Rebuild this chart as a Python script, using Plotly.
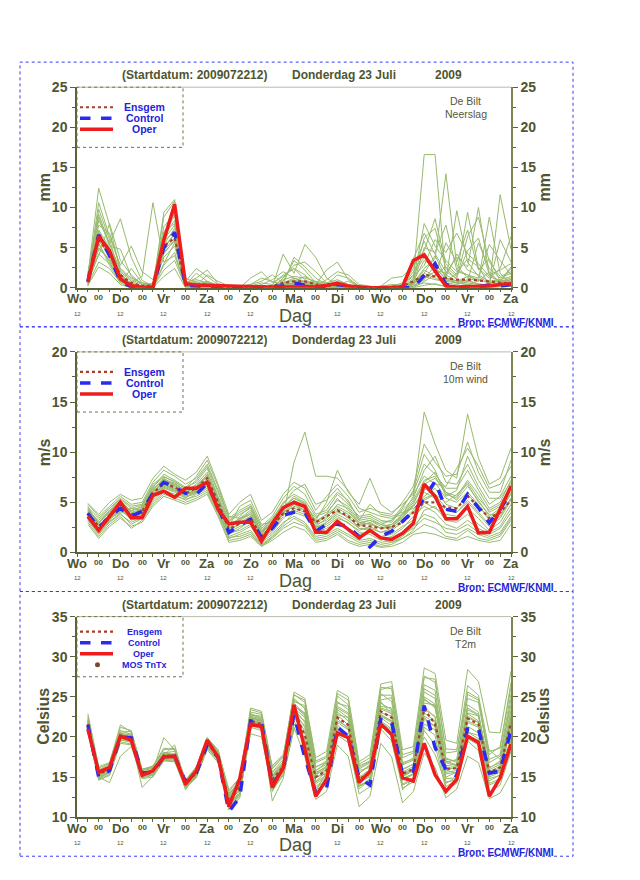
import plotly.graph_objects as go

# page geometry (the browser offsets / scales the figure slightly)
OX, OY, SY = 8, 16, 0.979
W, H = 624, 870

# ---------------- data ----------------
hours = list(range(6, 241, 6))          # forecast steps (+6h .. +240h) from 22 Jul 12Z
day_hours = [0, 24, 48, 72, 96, 120, 144, 168, 192, 216, 240]
day_names = ["Wo", "Do", "Vr", "Za", "Zo", "Ma", "Di", "Wo", "Do", "Vr", "Za"]
night_hours = [12, 36, 60, 84, 108, 132, 156, 180, 204, 228]
night_label = "00"
hour_label = "12"

# ---- Neerslag (mm) ----
precip_oper = [0.7, 6.4, 4.6, 1.1, 0.25, 0.05, 0.0, 5.9, 10.4, 0.5, 0.35, 0.3, 0.3, 0.2, 0.1, 0.05, 0.1, 0.1, 0.05, 0.1,
               0.15, 0.1, 0.3, 0.55, 0.2, 0.05, 0.0, 0.0, 0.05, 0.1, 3.4, 4.1, 2.1, 0.2, 0.1, 0.1, 0.2, 0.2, 0.4, 0.5]
precip_ctrl = [0.8, 6.6, 4.0, 0.8, 0.1, 0.0, 0.0, 5.0, 6.9, 0.3, 0.2, 0.1, 0.1, 0.0, 0.0, 0.0, 0.0, 0.1, 0.2, 0.6,
               0.3, 0.1, 0.2, 0.4, 0.2, 0.0, 0.0, 0.0, 0.0, 0.0, 0.0, 1.5, 3.0, 0.4, 0.1, 0.0, 0.1, 0.3, 0.2, 0.4]
precip_ens = [0.9, 6.0, 4.2, 1.6, 0.6, 0.2, 0.3, 5.2, 6.2, 0.3, 0.4, 0.4, 0.1, 0.0, 0.0, 0.1, 0.2, 0.2, 0.6, 0.8,
              0.8, 0.4, 0.2, 0.4, 0.2, 0.0, 0.0, 0.0, 0.1, 0.2, 0.8, 1.6, 1.4, 1.2, 1.0, 1.0, 0.9, 0.8, 0.6, 0.5]
precip_members = [
    [0.8, 5.8, 4.2, 1.0, 0.2, 0.0, 0.0, 4.6, 6.2, 0.3, 0.2, 0.4, 0.1, 0.0, 0.0, 0.0, 0.1, 0.0, 0.2, 0.4, 0.6, 0.2, 0.1, 0.3, 0.1, 0.0, 0.0, 0.0, 0.1, 0.2, 0.5, 1.8, 1.2, 0.6, 0.4, 0.8, 0.5, 0.3, 0.4, 0.6],
    [1.5, 12.4, 7.8, 2.0, 0.8, 0.2, 0.4, 7.6, 9.2, 0.6, 1.2, 2.2, 0.5, 0.2, 0.0, 0.2, 0.6, 0.4, 1.6, 2.4, 1.0, 0.4, 0.2, 0.6, 0.2, 0.0, 0.0, 0.2, 0.4, 0.3, 2.4, 5.8, 3.0, 1.4, 4.2, 2.2, 1.6, 0.8, 1.0, 1.4],
    [0.4, 3.2, 2.4, 0.6, 0.0, 0.0, 0.0, 2.2, 3.4, 0.1, 0.0, 0.1, 0.0, 0.0, 0.0, 0.0, 0.0, 0.0, 0.0, 0.1, 0.0, 0.0, 0.0, 0.0, 0.0, 0.0, 0.0, 0.0, 0.0, 0.0, 0.0, 0.3, 0.5, 0.1, 0.0, 0.2, 0.1, 0.0, 0.1, 0.2],
    [1.0, 8.4, 5.6, 8.6, 3.8, 0.9, 0.2, 5.8, 7.0, 0.4, 0.5, 0.6, 0.2, 0.1, 0.0, 0.0, 0.2, 0.1, 0.6, 1.0, 0.4, 0.1, 0.0, 0.2, 0.1, 0.0, 0.0, 0.0, 0.2, 0.6, 3.6, 6.8, 4.2, 2.0, 1.2, 6.4, 8.8, 3.2, 1.4, 2.0],
    [0.6, 4.8, 3.6, 1.4, 0.3, 0.1, 0.0, 3.8, 5.2, 0.2, 0.1, 0.3, 0.0, 0.0, 0.0, 0.0, 0.0, 0.1, 4.2, 1.8, 5.4, 3.8, 1.2, 0.4, 0.0, 0.0, 0.0, 0.0, 0.0, 0.1, 1.2, 16.6, 16.6, 1.0, 0.6, 0.4, 0.2, 0.4, 0.6, 1.0],
    [1.2, 10.6, 6.4, 2.8, 5.2, 2.0, 1.0, 6.4, 8.4, 0.8, 2.4, 1.4, 0.4, 0.3, 0.2, 0.4, 1.2, 0.8, 0.4, 0.6, 0.2, 0.0, 0.0, 0.0, 0.0, 0.0, 0.0, 0.0, 0.0, 0.0, 0.6, 2.4, 3.6, 14.2, 2.8, 1.2, 0.8, 2.0, 0.6, 0.4],
    [0.9, 6.2, 4.6, 1.2, 0.6, 1.4, 10.6, 3.2, 4.0, 0.2, 0.1, 0.0, 0.0, 0.0, 0.0, 0.0, 0.4, 1.0, 2.0, 1.2, 0.8, 0.3, 0.1, 0.1, 0.0, 0.0, 0.0, 0.0, 0.0, 0.2, 0.8, 3.4, 2.6, 1.0, 9.6, 3.2, 1.4, 0.6, 0.8, 0.8],
    [0.7, 7.2, 5.0, 1.8, 0.4, 0.2, 0.3, 8.8, 10.8, 0.5, 0.8, 0.2, 0.1, 0.0, 0.0, 0.0, 0.0, 0.0, 0.8, 3.4, 2.2, 0.6, 0.4, 1.6, 1.2, 0.2, 0.0, 0.2, 0.0, 0.0, 1.0, 8.0, 5.2, 3.4, 2.0, 1.6, 0.8, 8.8, 1.8, 0.6],
    [0.5, 4.2, 3.0, 1.0, 0.2, 0.0, 0.0, 5.2, 6.6, 0.2, 0.3, 1.6, 0.8, 0.2, 0.1, 0.2, 0.0, 0.0, 0.2, 0.6, 0.8, 0.4, 2.2, 3.2, 1.0, 0.2, 0.0, 0.0, 0.0, 0.0, 0.4, 1.4, 1.0, 0.8, 0.6, 1.0, 0.4, 0.2, 11.6, 4.8],
    [1.8, 9.2, 5.4, 2.2, 1.0, 0.4, 0.1, 6.0, 7.8, 0.3, 0.4, 0.8, 0.2, 0.0, 0.0, 0.0, 0.2, 0.2, 1.0, 1.4, 1.2, 0.8, 0.6, 1.0, 0.4, 0.0, 0.0, 0.2, 1.2, 1.4, 2.8, 4.6, 8.6, 3.0, 1.6, 9.4, 2.4, 1.2, 2.4, 6.4],
    [0.3, 2.6, 1.8, 0.4, 0.0, 0.0, 0.0, 1.4, 2.4, 0.0, 0.0, 0.0, 0.0, 0.0, 0.0, 0.0, 0.0, 0.0, 0.0, 0.0, 0.0, 0.0, 0.0, 0.0, 0.0, 0.0, 0.0, 0.0, 0.0, 0.0, 0.2, 0.6, 0.4, 0.2, 0.1, 0.1, 0.0, 0.1, 0.2, 0.3],
    [1.1, 6.8, 4.8, 1.6, 0.5, 0.2, 0.0, 4.4, 5.8, 0.4, 0.6, 0.4, 0.2, 0.0, 0.0, 1.2, 2.0, 0.6, 1.4, 2.4, 1.6, 0.4, 0.2, 0.6, 0.2, 0.0, 0.0, 0.0, 0.0, 0.4, 1.6, 3.8, 2.2, 1.8, 3.8, 2.6, 10.0, 1.6, 2.2, 3.0],
    [0.6, 5.4, 3.2, 0.8, 0.1, 0.0, 0.0, 2.8, 4.4, 0.1, 0.2, 0.2, 0.0, 0.0, 0.0, 0.0, 0.0, 0.2, 0.4, 0.6, 0.2, 0.0, 0.0, 0.2, 0.0, 0.0, 0.0, 0.0, 0.0, 0.2, 0.6, 1.8, 4.0, 1.2, 0.8, 1.4, 1.0, 0.6, 0.4, 0.6],
    [1.4, 7.8, 6.8, 2.4, 1.2, 0.6, 0.2, 7.0, 8.0, 0.6, 0.4, 0.2, 0.1, 0.0, 0.0, 0.0, 0.1, 0.0, 0.2, 0.4, 0.4, 0.2, 0.0, 0.0, 0.0, 0.0, 0.0, 0.0, 0.0, 0.0, 0.4, 2.2, 1.4, 5.6, 3.2, 7.2, 2.2, 3.6, 0.8, 1.2],
    [0.9, 5.0, 3.4, 1.2, 0.4, 0.1, 0.0, 9.4, 11.0, 0.7, 1.0, 0.6, 0.2, 0.1, 0.0, 0.0, 0.0, 0.0, 0.6, 0.8, 1.4, 0.6, 0.2, 0.4, 0.2, 0.0, 0.0, 0.0, 0.0, 0.0, 0.2, 1.0, 2.8, 1.6, 0.8, 0.6, 0.4, 0.2, 0.4, 0.8],
    [0.5, 9.8, 6.0, 1.4, 0.6, 0.1, 0.0, 6.8, 9.0, 0.4, 1.8, 0.8, 0.3, 0.1, 0.0, 0.0, 0.0, 0.0, 0.4, 3.8, 2.6, 1.2, 0.4, 0.8, 0.4, 0.0, 0.0, 0.0, 0.0, 0.2, 0.8, 6.2, 7.4, 2.4, 1.0, 0.8, 5.6, 2.4, 1.2, 1.8],
    [1.3, 4.0, 8.0, 3.4, 1.6, 0.4, 0.0, 3.0, 5.6, 1.2, 0.6, 0.2, 0.0, 0.0, 0.0, 0.4, 0.8, 1.6, 0.6, 0.2, 0.4, 0.2, 1.0, 2.0, 1.6, 0.4, 0.2, 0.0, 0.0, 0.4, 1.4, 2.8, 6.0, 4.4, 6.8, 4.2, 3.0, 1.4, 0.8, 1.0],
    [0.2, 5.6, 2.8, 0.6, 2.4, 0.6, 0.4, 4.2, 6.0, 0.2, 0.2, 0.1, 0.0, 0.0, 0.0, 0.0, 0.0, 0.0, 0.0, 0.2, 0.6, 0.8, 0.2, 0.0, 0.0, 0.0, 0.0, 0.0, 0.0, 0.0, 0.0, 0.8, 1.6, 2.6, 1.4, 4.6, 6.2, 1.6, 0.8, 2.6],
    [1.0, 7.0, 4.4, 1.4, 0.4, 0.2, 0.6, 6.6, 9.6, 0.4, 0.3, 0.2, 0.1, 0.0, 0.0, 0.0, 0.0, 0.0, 1.2, 2.8, 3.2, 2.0, 0.6, 0.2, 0.0, 0.0, 0.0, 0.0, 0.0, 0.0, 0.4, 5.0, 4.4, 7.8, 2.2, 1.6, 1.2, 5.4, 3.4, 1.6],
    [0.7, 6.0, 3.8, 0.8, 0.2, 0.0, 0.0, 5.4, 7.4, 0.3, 0.5, 0.4, 0.2, 0.0, 0.0, 0.0, 0.0, 0.0, 0.0, 0.4, 0.2, 0.0, 0.0, 0.4, 0.8, 0.2, 0.0, 0.0, 0.0, 0.0, 0.2, 1.2, 2.0, 0.8, 1.8, 3.6, 2.6, 0.4, 6.0, 3.2],
    [1.6, 8.8, 5.2, 4.8, 1.4, 0.4, 0.2, 4.8, 6.8, 0.6, 0.4, 0.6, 0.2, 0.0, 0.0, 0.0, 0.0, 0.0, 0.6, 1.2, 0.6, 0.2, 0.0, 0.0, 0.0, 0.0, 0.0, 0.0, 0.0, 0.2, 2.0, 4.2, 2.4, 1.2, 0.6, 0.4, 0.2, 0.6, 0.8, 2.4],
]

# ---- 10m wind (m/s) ----
wind_oper = [3.6, 2.2, 3.6, 5.0, 3.45, 3.45, 5.7, 6.1, 5.5, 6.4, 6.4, 7.0, 4.3, 2.85, 3.0, 3.0, 1.1, 2.9, 4.45, 5.0,
             4.6, 2.0, 2.0, 3.1, 2.3, 1.45, 2.2, 1.45, 1.3, 1.9, 2.9, 6.8, 5.6, 3.35, 3.35, 4.6, 1.95, 2.0, 4.3, 6.6]
wind_ctrl = [3.9, 2.4, 3.6, 4.4, 3.6, 4.1, 5.9, 7.0, 6.5, 5.9, 5.8, 6.9, 4.5, 2.0, 2.7, 3.3, 1.5, 2.4, 3.7, 4.0,
             4.0, 2.1, 2.8, 2.8, 2.6, 1.6, 0.55, 1.6, 2.1, 3.1, 4.1, 5.3, 7.1, 4.3, 4.1, 5.8, 4.45, 2.95, 4.3, 6.0]
wind_ens = [3.9, 2.6, 3.7, 4.6, 3.8, 4.1, 5.9, 6.9, 6.5, 5.9, 6.4, 7.4, 5.0, 2.3, 2.9, 3.4, 1.6, 2.6, 3.9, 4.4,
            4.1, 3.0, 3.6, 4.2, 3.6, 2.7, 2.6, 2.4, 2.5, 3.0, 4.0, 5.0, 5.0, 4.5, 4.4, 5.6, 4.6, 3.4, 4.0, 5.2]
wind_members = [
    [3.8, 2.4, 3.7, 4.6, 3.6, 4.0, 5.8, 6.8, 6.4, 5.9, 6.2, 7.2, 4.8, 2.2, 2.9, 3.4, 1.6, 2.5, 3.9, 4.6, 4.2, 2.4, 2.8, 3.6, 2.9, 2.2, 2.6, 2.0, 2.4, 3.2, 4.2, 5.6, 6.4, 4.8, 4.4, 5.8, 4.6, 3.4, 4.2, 5.8],
    [4.4, 3.0, 4.2, 5.2, 4.1, 4.6, 6.5, 7.8, 7.2, 6.5, 7.0, 8.4, 5.6, 3.1, 3.8, 4.4, 2.4, 3.4, 4.8, 6.2, 6.8, 4.8, 5.2, 6.4, 5.0, 3.4, 3.6, 3.0, 3.2, 4.2, 5.4, 8.2, 9.6, 7.0, 6.8, 8.8, 6.6, 4.8, 5.6, 7.6],
    [3.2, 1.8, 3.0, 3.8, 3.0, 3.5, 5.2, 6.2, 5.8, 5.2, 5.8, 6.4, 4.2, 1.6, 2.0, 2.6, 1.0, 1.8, 3.0, 3.6, 3.0, 1.6, 1.8, 2.4, 1.8, 1.2, 1.4, 1.0, 1.2, 1.8, 2.4, 3.4, 3.0, 2.4, 2.2, 2.8, 2.0, 1.6, 2.0, 3.6],
    [4.0, 2.8, 3.4, 4.0, 4.4, 4.2, 6.0, 7.2, 6.8, 6.2, 6.6, 7.6, 5.2, 2.6, 4.6, 5.2, 2.8, 3.0, 4.4, 5.6, 5.0, 3.0, 3.8, 5.4, 4.2, 2.8, 3.2, 2.6, 2.8, 3.6, 5.0, 6.8, 7.4, 6.0, 5.6, 7.2, 5.8, 4.0, 4.6, 6.4],
    [3.6, 2.2, 3.2, 4.8, 3.4, 3.8, 5.6, 6.6, 6.2, 5.6, 6.0, 6.8, 4.6, 2.0, 2.6, 3.0, 1.4, 2.2, 3.6, 9.0, 12.0, 7.6, 7.6, 7.4, 6.2, 4.4, 4.0, 3.6, 3.4, 3.8, 4.6, 6.0, 5.4, 4.2, 4.0, 5.0, 3.8, 2.6, 3.4, 5.2],
    [4.8, 3.6, 4.6, 5.6, 4.8, 5.0, 7.0, 8.2, 7.6, 6.8, 7.4, 8.8, 6.2, 3.6, 3.4, 3.8, 2.0, 2.8, 4.2, 5.2, 4.6, 2.8, 3.2, 4.2, 3.4, 2.6, 3.0, 2.4, 2.6, 3.4, 4.8, 7.0, 8.0, 6.0, 5.2, 6.6, 5.2, 3.6, 4.4, 6.8],
    [3.4, 2.0, 3.6, 4.4, 3.2, 3.6, 5.4, 6.4, 6.0, 5.4, 6.2, 7.0, 4.4, 1.4, 1.8, 2.2, 0.8, 1.6, 2.8, 4.0, 3.6, 2.2, 3.0, 4.0, 3.6, 2.4, 2.2, 1.4, 1.0, 1.4, 2.2, 4.2, 4.6, 3.2, 3.0, 3.8, 2.8, 2.0, 2.6, 4.4],
    [4.2, 3.2, 4.4, 5.4, 4.6, 4.8, 6.8, 7.6, 7.0, 6.4, 7.6, 9.2, 6.6, 3.4, 4.2, 4.8, 2.6, 3.6, 5.4, 6.6, 5.8, 3.8, 4.2, 5.8, 4.8, 3.6, 3.8, 3.2, 3.0, 4.4, 6.2, 9.8, 8.2, 5.6, 6.2, 9.6, 7.2, 5.4, 5.4, 7.0],
    [3.0, 1.6, 2.8, 3.6, 2.4, 3.2, 4.8, 5.8, 5.4, 5.0, 5.4, 6.0, 3.8, 1.2, 1.4, 1.8, 0.6, 1.4, 2.4, 3.0, 2.6, 1.2, 1.4, 2.0, 1.2, 0.8, 1.0, 0.6, 0.8, 1.4, 2.0, 2.8, 2.4, 1.6, 1.4, 2.2, 1.4, 1.2, 1.6, 3.2],
    [4.6, 2.6, 3.8, 5.0, 3.8, 4.4, 6.2, 7.4, 6.6, 6.0, 6.4, 7.8, 5.4, 2.4, 3.2, 3.8, 2.2, 3.2, 4.6, 5.4, 4.8, 3.4, 4.6, 6.0, 5.2, 3.2, 4.8, 3.8, 3.6, 4.0, 4.4, 5.2, 5.8, 5.0, 5.8, 6.8, 5.0, 3.8, 3.8, 5.4],
    [3.9, 2.5, 3.5, 4.2, 3.8, 4.2, 5.9, 7.0, 6.5, 5.8, 6.1, 7.1, 4.6, 2.1, 3.6, 4.6, 1.8, 2.6, 4.0, 4.8, 4.4, 3.2, 5.0, 8.2, 6.0, 4.8, 7.4, 4.8, 4.0, 4.8, 5.8, 7.6, 6.8, 6.6, 8.4, 10.4, 8.6, 6.4, 6.8, 8.6],
    [3.5, 2.3, 3.9, 4.5, 3.3, 3.9, 5.7, 6.7, 6.3, 5.7, 6.3, 7.3, 4.9, 1.8, 2.4, 3.2, 1.2, 2.0, 3.4, 4.4, 4.0, 2.0, 2.4, 3.0, 2.4, 1.8, 2.0, 1.6, 1.8, 2.6, 3.2, 5.0, 4.4, 3.8, 3.6, 4.4, 3.4, 2.2, 3.0, 4.8],
    [4.3, 2.9, 4.0, 4.9, 4.2, 4.5, 6.3, 7.3, 6.9, 6.1, 6.8, 8.0, 5.5, 2.8, 3.0, 3.6, 2.0, 3.0, 4.4, 5.0, 4.4, 2.6, 3.4, 4.8, 4.4, 3.0, 2.8, 2.4, 2.8, 3.8, 5.6, 14.0, 10.8, 8.2, 7.4, 13.8, 9.4, 6.8, 7.4, 10.4],
    [3.7, 2.1, 3.3, 4.1, 3.5, 3.7, 5.5, 6.5, 6.1, 5.5, 5.9, 6.6, 4.3, 1.9, 2.2, 2.8, 1.4, 2.4, 3.8, 4.2, 3.8, 2.6, 2.6, 3.4, 3.0, 2.0, 1.8, 1.2, 1.6, 2.4, 3.6, 4.6, 4.0, 2.8, 2.4, 3.2, 2.4, 1.8, 2.4, 4.0],
    [4.1, 2.7, 3.6, 4.7, 3.9, 4.1, 6.1, 7.0, 6.7, 6.0, 6.5, 7.5, 5.0, 2.5, 3.3, 4.0, 1.9, 2.9, 4.2, 5.0, 4.6, 2.9, 3.6, 4.4, 3.8, 2.8, 2.9, 2.4, 2.5, 3.5, 4.6, 6.2, 7.0, 5.4, 5.0, 6.0, 4.8, 3.2, 4.0, 6.0],
    [2.8, 1.4, 2.6, 3.4, 2.6, 3.0, 4.6, 5.6, 5.2, 4.8, 5.2, 5.8, 3.6, 1.0, 1.2, 1.6, 0.6, 1.2, 2.0, 2.6, 2.2, 1.0, 1.2, 1.8, 1.0, 0.6, 0.8, 0.5, 0.6, 1.0, 1.8, 2.0, 1.8, 1.4, 1.2, 1.6, 1.2, 1.0, 1.2, 2.8],
    [4.9, 3.8, 5.0, 5.8, 5.2, 5.4, 7.4, 8.6, 7.8, 7.2, 8.0, 9.6, 6.8, 3.8, 5.0, 5.8, 3.2, 4.0, 5.8, 7.0, 6.4, 4.2, 5.6, 6.8, 5.6, 4.0, 4.4, 4.0, 3.8, 5.0, 6.6, 10.8, 9.0, 7.6, 7.8, 11.0, 8.0, 6.0, 6.0, 9.2],
    [3.3, 1.9, 3.1, 3.9, 2.8, 3.4, 5.0, 6.0, 5.6, 5.3, 5.6, 6.2, 4.0, 1.5, 1.6, 2.0, 0.7, 1.5, 2.6, 3.4, 2.8, 1.4, 1.6, 2.2, 1.6, 1.0, 1.2, 0.8, 1.0, 1.6, 2.6, 3.8, 3.4, 2.0, 1.8, 2.4, 1.8, 1.4, 1.8, 3.4],
    [4.5, 3.4, 4.4, 5.3, 4.4, 4.7, 6.6, 7.5, 7.1, 6.3, 7.2, 8.6, 6.0, 3.2, 4.0, 4.6, 2.4, 3.3, 5.0, 5.8, 5.2, 3.6, 4.0, 5.2, 4.6, 3.2, 3.4, 2.8, 3.2, 4.6, 6.0, 8.8, 7.8, 6.4, 6.4, 8.2, 6.2, 4.4, 5.0, 7.2],
    [3.7, 2.3, 3.4, 4.3, 3.7, 3.9, 5.6, 6.9, 6.2, 5.8, 6.0, 7.0, 4.7, 2.2, 2.8, 3.6, 1.7, 2.7, 4.0, 4.8, 4.2, 2.5, 3.0, 3.8, 3.2, 2.4, 2.4, 2.0, 2.2, 3.0, 4.0, 5.4, 5.8, 4.4, 4.0, 5.2, 4.0, 2.8, 3.6, 5.4],
    [4.2, 3.0, 4.1, 5.1, 4.0, 4.3, 6.4, 7.2, 6.8, 6.2, 6.7, 7.7, 5.3, 2.7, 3.4, 4.2, 2.1, 3.1, 4.5, 5.4, 4.9, 3.1, 3.8, 4.6, 4.0, 3.0, 3.2, 2.8, 2.6, 3.8, 5.2, 7.2, 7.6, 5.8, 5.4, 7.0, 5.4, 4.2, 4.8, 6.6],
]

# ---- T2m (Celsius) ----
temp_oper = [21.0, 15.6, 16.2, 20.1, 19.6, 15.2, 15.8, 17.5, 17.6, 14.1, 15.8, 19.6, 17.5, 11.3, 14.8, 21.6, 21.3, 13.7, 16.1, 24.0,
             18.5, 12.6, 14.7, 20.5, 19.9, 14.3, 15.7, 21.6, 20.3, 14.9, 14.5, 19.2, 15.3, 13.2, 14.7, 20.1, 19.3, 12.6, 14.9, 19.1]
temp_ctrl = [21.5, 15.0, 15.8, 20.0, 19.9, 15.5, 15.6, 17.5, 17.6, 14.4, 15.5, 19.0, 17.5, 10.7, 12.5, 22.0, 21.8, 14.0, 16.0, 22.8,
             17.4, 13.0, 13.6, 21.2, 20.1, 14.9, 14.0, 22.2, 21.8, 15.3, 15.5, 23.9, 18.7, 15.9, 15.1, 21.0, 21.0, 15.5, 15.7, 20.8]
temp_ens = [21.6, 15.4, 15.9, 20.0, 19.8, 15.3, 15.7, 17.7, 17.6, 14.1, 15.5, 19.2, 17.6, 12.0, 13.7, 22.0, 21.6, 14.7, 16.3, 23.3,
            20.2, 15.0, 15.8, 22.4, 21.5, 14.7, 15.5, 23.2, 22.4, 15.4, 16.0, 23.5, 21.6, 16.0, 16.1, 22.3, 21.6, 15.6, 16.2, 21.8]
temp_members = [
    [21.8, 15.2, 16.0, 20.3, 19.8, 15.4, 15.9, 17.9, 17.8, 14.2, 15.6, 19.3, 17.6, 11.5, 13.2, 22.3, 21.9, 14.4, 16.3, 23.5, 21.8, 14.5, 15.6, 21.8, 20.9, 14.8, 15.5, 22.8, 22.0, 15.1, 15.9, 23.8, 22.4, 15.9, 15.4, 21.3, 20.5, 15.2, 16.0, 21.0],
    [22.4, 15.8, 16.4, 20.8, 20.3, 15.9, 16.2, 17.2, 17.9, 14.5, 16.0, 19.8, 18.1, 12.3, 14.0, 22.9, 22.4, 15.2, 16.9, 24.8, 23.5, 15.8, 16.8, 23.6, 22.8, 15.5, 16.4, 24.6, 24.9, 16.8, 17.2, 26.5, 25.8, 17.0, 16.5, 23.4, 22.7, 16.1, 17.0, 24.8],
    [21.0, 14.8, 15.5, 19.6, 19.4, 15.1, 15.3, 17.3, 17.2, 13.8, 15.2, 18.8, 17.2, 11.0, 12.6, 21.4, 21.0, 13.2, 15.4, 22.0, 19.2, 13.4, 14.1, 20.2, 19.3, 12.9, 13.8, 21.0, 19.5, 13.6, 14.4, 20.8, 19.0, 13.5, 14.2, 19.5, 18.3, 13.1, 14.0, 18.2],
    [22.9, 16.3, 16.8, 21.5, 20.6, 16.0, 16.3, 18.4, 18.6, 14.6, 16.2, 19.9, 18.2, 13.2, 14.8, 23.4, 23.0, 16.0, 17.5, 25.3, 24.3, 16.8, 17.4, 25.1, 24.0, 16.4, 17.0, 25.9, 26.3, 17.8, 18.2, 27.6, 26.8, 18.5, 18.4, 25.3, 24.6, 17.8, 18.8, 26.2],
    [20.9, 15.0, 14.3, 17.6, 18.8, 14.8, 15.0, 17.0, 16.9, 13.6, 14.9, 18.6, 17.0, 11.8, 13.5, 21.8, 21.2, 14.0, 16.0, 22.6, 20.8, 14.2, 15.0, 21.0, 19.8, 13.8, 14.6, 22.0, 21.0, 14.6, 15.3, 22.4, 21.2, 15.0, 15.6, 20.2, 19.6, 14.8, 15.2, 20.0],
    [21.5, 15.6, 16.2, 19.9, 20.0, 15.7, 15.8, 19.9, 18.4, 14.1, 15.8, 19.5, 17.8, 12.6, 14.3, 22.6, 22.2, 14.9, 16.6, 24.0, 22.6, 15.2, 16.2, 22.7, 21.5, 14.2, 15.2, 23.6, 23.2, 15.9, 16.6, 24.8, 23.6, 16.8, 16.4, 22.4, 21.8, 15.6, 16.4, 22.6],
    [22.0, 15.4, 15.9, 20.4, 19.6, 13.7, 15.1, 17.6, 17.5, 13.4, 15.3, 19.1, 17.5, 12.0, 13.8, 22.0, 21.6, 12.0, 14.8, 21.2, 17.5, 12.2, 13.2, 19.0, 17.6, 11.3, 12.6, 19.2, 17.5, 11.8, 13.2, 18.0, 16.2, 12.4, 13.5, 17.6, 16.8, 12.3, 13.0, 15.5],
    [21.3, 15.1, 15.7, 20.1, 19.7, 15.5, 15.6, 17.7, 19.0, 14.3, 15.5, 19.7, 17.9, 12.8, 14.6, 23.1, 22.8, 15.6, 17.2, 25.6, 24.8, 17.4, 18.2, 25.8, 25.0, 16.9, 17.8, 26.6, 26.9, 18.4, 18.8, 28.6, 27.9, 19.6, 19.2, 28.4, 26.9, 20.6, 20.5, 28.2],
    [21.7, 15.9, 16.6, 20.6, 20.7, 15.3, 16.4, 18.1, 17.6, 14.4, 15.9, 19.4, 17.7, 12.1, 13.9, 22.2, 21.7, 14.6, 16.1, 23.2, 21.2, 14.9, 15.8, 21.5, 20.1, 14.6, 15.9, 23.0, 22.6, 15.4, 16.1, 20.0, 17.8, 14.2, 15.0, 21.8, 21.2, 14.5, 15.3, 21.6],
    [20.6, 14.6, 15.2, 19.2, 19.0, 14.9, 15.2, 17.1, 17.0, 13.9, 15.0, 18.4, 16.8, 11.4, 12.9, 20.4, 20.0, 13.6, 15.2, 20.9, 19.6, 13.8, 14.9, 20.4, 19.8, 13.5, 14.7, 21.2, 20.6, 14.1, 14.9, 21.6, 20.9, 14.8, 14.9, 19.8, 19.0, 14.2, 14.8, 18.9],
    [22.2, 15.5, 16.1, 20.0, 20.5, 15.8, 16.1, 18.0, 18.2, 14.7, 16.1, 19.9, 18.4, 13.0, 14.4, 22.7, 22.6, 15.5, 16.8, 24.4, 23.9, 16.3, 16.8, 24.2, 23.8, 16.2, 16.9, 25.4, 24.4, 16.5, 17.1, 25.6, 24.8, 16.8, 17.2, 24.8, 24.3, 16.8, 17.6, 24.0],
    [21.2, 14.9, 15.6, 19.7, 19.3, 15.0, 15.6, 17.4, 17.4, 14.0, 15.4, 19.0, 17.4, 10.9, 12.4, 21.6, 21.4, 13.8, 15.8, 23.0, 22.0, 15.0, 15.4, 22.3, 21.0, 14.0, 14.4, 22.4, 21.4, 15.6, 16.3, 23.0, 22.0, 17.4, 16.8, 22.9, 22.0, 15.8, 15.8, 23.2],
    [21.9, 15.3, 15.8, 20.2, 20.1, 15.6, 15.7, 17.8, 17.7, 14.2, 15.7, 19.5, 17.9, 11.9, 13.4, 22.4, 22.0, 14.4, 16.5, 23.8, 23.0, 15.6, 16.2, 22.8, 22.4, 14.9, 15.6, 24.2, 23.4, 15.2, 16.0, 24.2, 24.0, 16.2, 16.3, 23.0, 22.6, 15.9, 16.6, 22.0],
    [21.6, 15.7, 16.3, 20.5, 19.9, 15.2, 15.5, 17.5, 17.3, 13.9, 15.4, 19.2, 17.6, 12.4, 14.2, 21.9, 21.5, 16.4, 17.8, 22.4, 20.4, 13.2, 15.6, 21.2, 20.2, 15.4, 16.6, 22.6, 21.8, 13.4, 14.8, 21.2, 20.2, 13.8, 14.6, 20.6, 20.2, 18.4, 17.2, 19.2],
    [21.4, 15.2, 15.9, 20.0, 19.8, 15.4, 15.7, 17.6, 17.6, 14.1, 15.6, 19.3, 17.6, 12.2, 14.2, 22.1, 21.8, 14.8, 16.4, 23.9, 22.9, 15.4, 15.9, 23.1, 22.0, 14.6, 15.3, 23.5, 22.9, 15.0, 15.8, 25.0, 24.1, 16.0, 16.1, 24.0, 23.1, 15.4, 16.2, 21.8],
    [22.6, 16.1, 16.7, 21.2, 20.8, 15.9, 16.4, 18.6, 18.4, 14.6, 16.3, 19.8, 18.3, 13.4, 14.9, 23.6, 23.2, 16.2, 17.6, 25.2, 24.6, 17.0, 17.6, 25.4, 24.6, 16.6, 17.4, 26.2, 26.0, 17.4, 18.0, 27.4, 27.2, 18.0, 18.2, 26.4, 25.2, 18.2, 18.6, 26.8],
    [20.8, 14.7, 15.3, 19.4, 19.1, 14.9, 15.3, 17.2, 17.1, 13.7, 15.1, 18.7, 17.1, 11.2, 12.8, 21.2, 20.8, 13.4, 15.2, 21.6, 19.8, 13.6, 14.6, 20.8, 20.0, 13.8, 14.8, 21.8, 20.8, 14.0, 14.6, 22.2, 21.4, 14.4, 14.6, 20.6, 19.8, 14.0, 14.6, 19.6],
    [21.6, 15.4, 16.0, 20.2, 20.0, 15.5, 15.8, 17.8, 17.7, 14.3, 15.7, 19.4, 17.7, 12.4, 13.9, 22.5, 22.1, 14.6, 16.4, 23.6, 22.4, 15.4, 16.4, 23.4, 22.4, 15.0, 15.9, 23.8, 23.6, 16.0, 16.6, 24.6, 23.8, 16.4, 16.6, 23.6, 22.8, 16.2, 16.8, 23.4],
    [22.1, 15.6, 16.2, 20.5, 20.2, 15.6, 15.9, 17.9, 17.9, 14.4, 15.8, 19.6, 17.9, 12.6, 14.1, 22.8, 22.3, 15.0, 16.7, 24.2, 22.8, 15.8, 16.6, 23.8, 23.0, 15.8, 16.2, 24.4, 22.8, 14.8, 15.4, 22.6, 21.8, 15.6, 15.8, 22.0, 21.4, 15.0, 15.6, 22.4],
    [21.1, 15.0, 15.6, 19.8, 19.5, 15.2, 15.4, 17.4, 17.3, 13.9, 15.3, 18.9, 17.3, 11.6, 13.0, 21.6, 21.2, 14.2, 15.6, 22.8, 21.4, 14.4, 15.2, 22.0, 21.2, 14.4, 15.0, 22.6, 22.0, 14.8, 15.4, 23.4, 22.6, 15.4, 15.6, 22.6, 21.8, 15.2, 15.8, 21.4],
    [21.8, 15.5, 16.1, 20.3, 19.9, 15.6, 15.8, 17.6, 17.8, 14.2, 15.6, 19.4, 17.8, 12.8, 14.4, 22.4, 22.0, 15.2, 16.6, 24.6, 23.6, 16.2, 17.0, 24.4, 23.4, 16.0, 16.8, 25.2, 25.2, 16.6, 17.4, 26.0, 25.2, 17.2, 17.0, 25.6, 24.8, 17.2, 17.8, 25.4],
]

title_parts = ["(Startdatum: 2009072212)", "Donderdag 23 Juli", "2009"]
legend_names = ["Ensgem", "Control", "Oper"]
mos_name = "MOS TnTx"
station = "De Bilt"
source = "Bron: ECMWF/KNMI"
xlabel = "Dag"

panels = [
    dict(members=precip_members, ens=precip_ens, ctrl=precip_ctrl, oper=precip_oper,
         yrange=[0, 25], unit="mm", param="Neerslag", mos=False),
    dict(members=wind_members, ens=wind_ens, ctrl=wind_ctrl, oper=wind_oper,
         yrange=[0, 20], unit="m/s", param="10m wind", mos=False),
    dict(members=temp_members, ens=temp_ens, ctrl=temp_ctrl, oper=temp_oper,
         yrange=[10, 35], unit="Celsius", param="T2m", mos=True),
]

# ---------------- styles ----------------
FONT = "Liberation Sans"
TXT = "#4f5530"
AXC = "#5b6235"
MEMBER = "#97ba6e"
ENS_C = "#a8402a"
CTRL_C = "#2a2af0"
OPER_C = "#ee1c1c"
LEG_TXT = "#2323dd"
BORDER = "#3a3af5"


def px(x):
    """page pixel x -> paper fraction"""
    return (x - OX) / W


def py(y):
    """page pixel y (from top) -> paper fraction"""
    return 1 - ((y - OY) / SY) / H


PANEL_OFF = 264
fig = go.Figure()
shapes, annotations = [], []
layout = dict(width=W, height=H, margin=dict(l=0, r=0, t=0, b=0),
              paper_bgcolor="white", plot_bgcolor="white", showlegend=False,
              font=dict(family=FONT, color=TXT))

for i, p in enumerate(panels):
    off = i * PANEL_OFF
    xn = "x" if i == 0 else f"x{i+1}"
    yn = "y" if i == 0 else f"y{i+1}"
    yrn = f"y{i+4}"
    xa = "xaxis" if i == 0 else f"xaxis{i+1}"
    ya = "yaxis" if i == 0 else f"yaxis{i+1}"
    yra = f"yaxis{i+4}"

    for m in p["members"]:
        fig.add_trace(go.Scatter(x=hours, y=m, mode="lines", xaxis=xn, yaxis=yn,
                                 line=dict(color=MEMBER, width=1), hoverinfo="skip"))
    fig.add_trace(go.Scatter(x=hours, y=p["ens"], mode="lines", xaxis=xn, yaxis=yn,
                             line=dict(color=ENS_C, width=2.2, dash="dot")))
    fig.add_trace(go.Scatter(x=hours, y=p["ctrl"], mode="lines", xaxis=xn, yaxis=yn,
                             line=dict(color=CTRL_C, width=3.5, dash="dash")))
    fig.add_trace(go.Scatter(x=hours, y=p["oper"], mode="lines", xaxis=xn, yaxis=yn,
                             line=dict(color=OPER_C, width=3.5)))
    # invisible trace to register the right-hand axis
    fig.add_trace(go.Scatter(x=[hours[0]], y=[p["yrange"][0]], mode="markers", xaxis=xn, yaxis=yrn,
                             marker=dict(opacity=0, size=1), hoverinfo="skip"))

    top, bot = 87 + off, 287 + off
    layout[xa] = dict(domain=[px(77), px(511)], range=[0, 240], anchor=yn,
                      showline=True, linecolor=AXC, linewidth=1.5, ticks="outside",
                      tick0=0, dtick=6, ticklen=3, tickcolor=AXC, showticklabels=False,
                      showgrid=False, zeroline=False, fixedrange=True)
    yax = dict(domain=[py(bot), py(top)], range=p["yrange"], anchor=xn,
               showline=True, linecolor=AXC, linewidth=1.5, ticks="outside",
               tick0=p["yrange"][0], dtick=5, ticklen=5, tickcolor=AXC,
               minor=dict(ticks="outside", ticklen=3, dtick=2.5, tickcolor=AXC),
               tickfont=dict(family=FONT, size=14, color=TXT, weight="bold"),
               showgrid=False, zeroline=False, fixedrange=True)
    layout[ya] = dict(yax)
    yr = dict(yax)
    yr.update(overlaying=yn, side="right", linecolor="#7d8650")
    layout[yra] = yr

    # panel frame (dotted blue)
    shapes.append(dict(type="rect", xref="paper", yref="paper",
                       x0=px(20), x1=px(573), y0=py(326 + off), y1=py(62 + off),
                       line=dict(color=BORDER, width=1, dash="dot")))
    # top edge of the plot area (light)
    shapes.append(dict(type="line", xref="paper", yref="paper",
                       x0=px(77), x1=px(511), y0=py(top), y1=py(top),
                       line=dict(color="#b8bcae", width=1)))

    # title
    for txt, xx in zip(title_parts, [120, 290, 433]):
        annotations.append(dict(text=txt, xref="paper", yref="paper", x=px(xx), y=py(75 + off),
                                xanchor="left", yanchor="middle", showarrow=False,
                                font=dict(family=FONT, size=12, color=TXT, weight="bold")))

    # axis titles left / right
    for xx in [44, 544]:
        annotations.append(dict(text=p["unit"], xref="paper", yref="paper", x=px(xx), y=py(187 + off),
                                xanchor="center", yanchor="middle", showarrow=False, textangle=-90,
                                font=dict(family=FONT, size=16, color=TXT, weight="bold")))

    # station / parameter
    for k, txt in enumerate([station, p["param"]]):
        annotations.append(dict(text=txt, xref="paper", yref="paper", x=px(466), y=py(101 + off + 13 * k),
                                xanchor="center", yanchor="middle", showarrow=False,
                                font=dict(family=FONT, size=10.5, color="#55583a")))

    # x labels
    for hh, name in zip(day_hours, day_names):
        annotations.append(dict(text=name, xref=xn, yref="paper", x=hh, y=py(298 + off),
                                xanchor="center", yanchor="middle", showarrow=False,
                                font=dict(family=FONT, size=13, color=TXT, weight="bold")))
        if name != "Ma":
            annotations.append(dict(text=hour_label, xref=xn, yref="paper", x=hh, y=py(313 + off),
                                    xanchor="center", yanchor="middle", showarrow=False,
                                    font=dict(family=FONT, size=6, color=TXT)))
    for hh in night_hours:
        annotations.append(dict(text=night_label, xref=xn, yref="paper", x=hh, y=py(297 + off),
                                xanchor="center", yanchor="middle", showarrow=False,
                                font=dict(family=FONT, size=8, color=TXT, weight="bold")))
    annotations.append(dict(text=xlabel, xref="paper", yref="paper", x=px(295), y=py(315 + off),
                            xanchor="center", yanchor="middle", showarrow=False,
                            font=dict(family=FONT, size=18, color=TXT)))
    annotations.append(dict(text=source, xref="paper", yref="paper", x=px(556), y=py(322 + off),
                            xanchor="right", yanchor="middle", showarrow=False,
                            font=dict(family=FONT, size=10, color=LEG_TXT, weight="bold")))

    # legend box
    shapes.append(dict(type="rect", xref="paper", yref="paper",
                       x0=px(77), x1=px(183), y0=py(147 + off), y1=py(87 + off),
                       line=dict(color="#6d7448", width=1, dash="dot")))
    if p["mos"]:
        ly = [102, 113, 124]
        lsize = 9
    else:
        ly = [107, 118, 129]
        lsize = 10.5
    styles = [dict(color=ENS_C, width=2.2, dash="dot"),
              dict(color=CTRL_C, width=3.5, dash="dash"),
              dict(color=OPER_C, width=3.5)]
    for name, yy, st in zip(legend_names, ly, styles):
        shapes.append(dict(type="line", xref="paper", yref="paper",
                           x0=px(80), x1=px(113), y0=py(yy + off), y1=py(yy + off), line=st))
        annotations.append(dict(text=name, xref="paper", yref="paper", x=px(144), y=py(yy + off),
                                xanchor="center", yanchor="middle", showarrow=False,
                                font=dict(family=FONT, size=lsize, color=LEG_TXT, weight="bold")))
    if p["mos"]:
        yy = 135 + off
        shapes.append(dict(type="circle", xref="paper", yref="paper",
                           x0=px(95), x1=px(100), y0=py(yy + 2.5), y1=py(yy - 2.5),
                           fillcolor="#7a4a2a", line=dict(color="#7a4a2a", width=0)))
        annotations.append(dict(text=mos_name, xref="paper", yref="paper", x=px(144), y=py(yy),
                                xanchor="center", yanchor="middle", showarrow=False,
                                font=dict(family=FONT, size=lsize, color=LEG_TXT, weight="bold")))

layout["shapes"] = shapes
layout["annotations"] = annotations
fig.update_layout(**layout)
fig.write_html("out.html")
